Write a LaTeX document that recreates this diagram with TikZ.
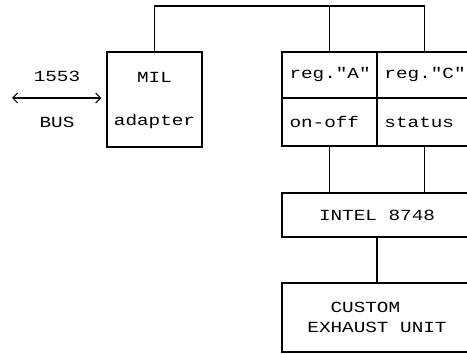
\documentclass[tikz,border=0pt]{standalone}
\usepackage{fontspec}
\newfontfamily\plotfont[FakeStretch=1.25]{Liberation Mono}
\usetikzlibrary{arrows.meta,positioning}
\tikzset{
  >={Straight Barb[length=1mm,width=2mm]},
  wire/.style = {line width=0.6pt},
  box/.style = {draw, line width=0.6pt, minimum width=3.8cm},
  cell/.style = {draw, line width=0.6pt, outer sep=0pt, text width=1.6cm, align=left, inner xsep=0.15cm},
  busarrow/.style = {<->, line width=0.6pt, shorten >=0.1cm},
}

\begin{document}
\begin{tikzpicture}[x=0.02cm, y=-0.02cm, font=\plotfont\fontsize{8.8}{11.4}\selectfont]
  \useasboundingbox (0,0) rectangle (467,354);
  \clip (0,0) rectangle (467,354);

  % ------------------------------------------------------------
  % MIL adapter on the 1553 bus
  % ------------------------------------------------------------
  \node[draw, line width=0.6pt, minimum width=1.9cm, minimum height=1.9cm] (mil) at (154.5,99.5) {};
  \node (milName) at (154.5,77) {MIL};
  \node (milType) at (154.5,122) {adapter};

  \coordinate (busEnd) at (12,98);
  \draw[busarrow] (busEnd) -- (busEnd -| mil.west);
  \node (busNum) at (57,76) {1553};
  \node (busName) at (57,122) {BUS};

  % ------------------------------------------------------------
  % registers
  % ------------------------------------------------------------
  \node[cell, minimum height=0.92cm] (regA) at (329.5,75) {reg."A"};
  \node[cell, minimum height=0.92cm, right=0pt of regA] (regC) {reg."C"};
  \node[cell, minimum height=0.96cm, below=0pt of regA] (onoff) {on-off};
  \node[cell, minimum height=0.96cm, right=0pt of onoff] (status) {status};

  % ------------------------------------------------------------
  % controller and exhaust unit
  % ------------------------------------------------------------
  \node[box, minimum height=0.88cm] (intel) at (377,215) {INTEL 8748};
  \node[box, minimum height=1.38cm, align=left] (custom) at (377,317.5) {\phantom{EX}CUSTOM\\EXHAUST UNIT};

  % wiring
  \coordinate (busTop) at (154.5,6);
  \draw[wire] (mil.north) -- (busTop) -| (regC.north);
  \draw[wire] (regA.north) -- (regA.north |- busTop);
  \draw[wire] (onoff.south) -- (onoff.south |- intel.north);
  \draw[wire] (status.south) -- (status.south |- intel.north);
  \draw[wire] (intel.south) -- (custom.north);
\end{tikzpicture}
\end{document}
